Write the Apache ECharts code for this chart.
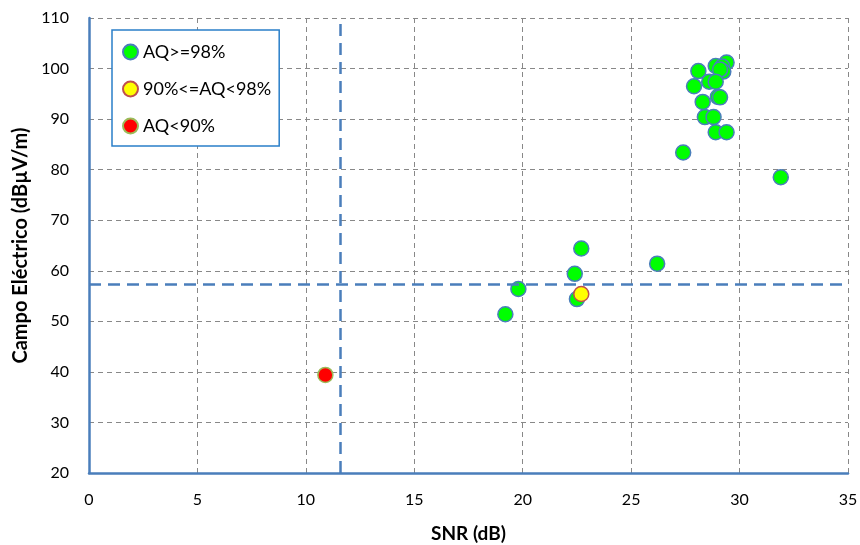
<!DOCTYPE html>
<html>
<head>
    <meta charset="UTF-8">
    <title>SNR vs Campo Eléctrico</title>
    <script src="https://cdn.jsdelivr.net/npm/echarts/dist/echarts.min.js"></script>
    <style>
        body { margin: 0; background: #fff; }
        #chart { width: 860px; height: 545px; }
    </style>
</head>
<body>
<div id="chart"></div>
<script>
    // datos: [SNR (dB), Campo (dBµV/m)]
    var seriesNames = ['AQ>=98%', '90%<=AQ<98%', 'AQ<90%'];
    var puntosVerdes = [
        [29.4, 101.2], [28.9, 100.5], [29.2, 100.4], [28.1, 99.5], [29.25, 99.4], [29.1, 99.8],
        [27.9, 96.5], [28.6, 97.4], [28.9, 97.4], [28.3, 93.4], [29.0, 94.4], [29.1, 94.3],
        [28.4, 90.4], [28.8, 90.4], [28.9, 87.4], [29.4, 87.4], [27.4, 83.4], [31.9, 78.5],
        [22.7, 64.4], [22.4, 59.4], [26.2, 61.4], [19.8, 56.4], [22.5, 54.4], [19.2, 51.4]
    ];
    var puntosAmarillos = [[22.7, 55.4]];
    var puntosRojos = [[10.9, 39.4]];
    var umbralSNR = 11.6;
    var umbralCampo = 57.3;
    var xTicks = [0, 35, 5];
    var yTicks = [20, 110, 10];

    var fuente = 'Lato, "Open Sans", sans-serif';
    var azul = '#4a7ebb';

    var chart = echarts.init(document.getElementById('chart'));

    var option = {
        animation: false,
        textStyle: { fontFamily: fuente },
        grid: { left: 89, right: 12, top: 18, bottom: 72, outerBoundsMode: 'none' },
        legend: {
            orient: 'vertical',
            left: 112,
            top: 30,
            padding: [13, 8, 11, 10],
            itemGap: 19,
            itemWidth: 15,
            itemHeight: 15,
            borderColor: '#2a7fc9',
            borderWidth: 1.5,
            backgroundColor: '#fff',
            textStyle: { fontFamily: fuente, fontSize: 18, color: '#000' },
            data: seriesNames
        },
        xAxis: {
            type: 'value',
            min: xTicks[0], max: xTicks[1], interval: xTicks[2],
            name: 'SNR (dB)',
            nameLocation: 'middle',
            nameGap: 51,
            nameTextStyle: { fontWeight: 'bold', fontSize: 19, color: '#000', fontFamily: fuente },
            axisLine: { show: true, onZero: false, lineStyle: { color: azul, width: 2.5 } },
            axisTick: { show: false },
            axisLabel: { fontSize: 16, color: '#000', margin: 19, fontFamily: fuente },
            splitLine: { show: true, lineStyle: { color: '#888', type: [5, 4], width: 1 } }
        },
        yAxis: {
            type: 'value',
            min: yTicks[0], max: yTicks[1], interval: yTicks[2],
            name: 'Campo Eléctrico (dBµV/m)',
            nameLocation: 'middle',
            nameGap: 47,
            nameTextStyle: { fontWeight: 'bold', fontSize: 20, color: '#000', fontFamily: fuente },
            axisLine: { show: true, onZero: false, lineStyle: { color: azul, width: 2.5 } },
            axisTick: { show: false },
            axisLabel: { fontSize: 16, color: '#000', margin: 20, fontFamily: fuente },
            splitLine: { show: true, lineStyle: { color: '#888', type: [5, 4], width: 1 } }
        },
        series: [
            {
                name: seriesNames[0],
                type: 'scatter',
                symbolSize: 15,
                itemStyle: { color: '#00ff00', borderColor: azul, borderWidth: 1.5, opacity: 1 },
                data: puntosVerdes,
                markLine: {
                    silent: true,
                    symbol: 'none',
                    label: { show: false },
                    lineStyle: { color: azul, type: [12, 7], width: 2.5 },
                    data: [{ xAxis: umbralSNR }, { yAxis: umbralCampo }]
                },
                z: 3
            },
            {
                name: seriesNames[1],
                type: 'scatter',
                symbolSize: 15,
                itemStyle: { color: '#ffff00', borderColor: '#c0504d', borderWidth: 1.5, opacity: 1 },
                data: puntosAmarillos,
                z: 4
            },
            {
                name: seriesNames[2],
                type: 'scatter',
                symbolSize: 15,
                itemStyle: { color: '#ff0000', borderColor: '#9bbb59', borderWidth: 1.5, opacity: 1 },
                data: puntosRojos,
                z: 5
            }
        ]
    };

    chart.setOption(option);
</script>
</body>
</html>
